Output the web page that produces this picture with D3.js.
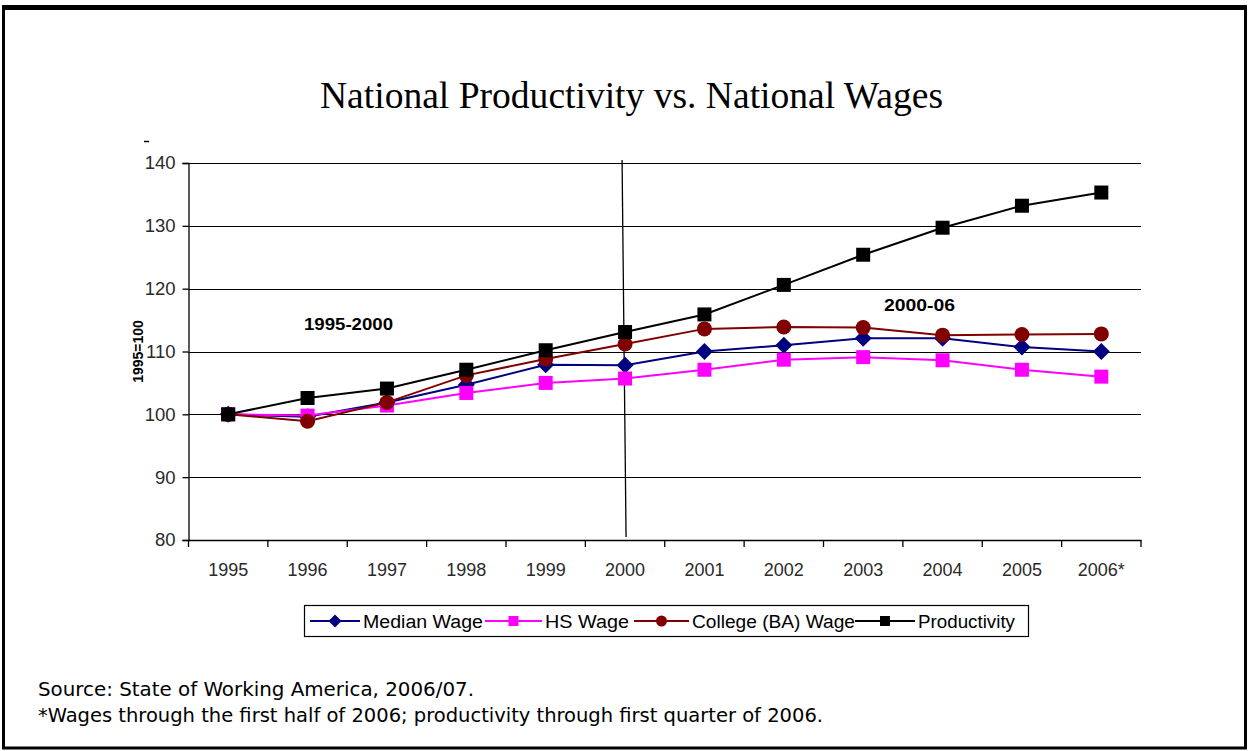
<!DOCTYPE html>
<html>
<head>
<meta charset="utf-8">
<script src="https://cdn.jsdelivr.net/npm/d3@7"></script>
<style>
  html, body { margin: 0; padding: 0; background: #fff; }
  svg { display: block; }
</style>
</head>
<body>
<svg id="chart" width="1249" height="751"></svg>
<script>
// Index values, 1995 = 100
const years = ["1995", "1996", "1997", "1998", "1999", "2000", "2001", "2002", "2003", "2004", "2005", "2006*"];
const medianWage   = [100, 99.6, 101.9, 104.7, 107.9, 107.8, 110.0, 111.0, 112.1, 112.1, 110.7, 110.0];
const hsWage       = [100, 99.8, 101.4, 103.4, 105.0, 105.7, 107.1, 108.7, 109.1, 108.6, 107.1, 106.0];
const collegeWage  = [100, 98.9, 101.9, 106.2, 108.8, 111.2, 113.6, 113.9, 113.8, 112.6, 112.7, 112.8];
const productivity = [100, 102.6, 104.1, 107.1, 110.2, 113.1, 115.9, 120.6, 125.4, 129.7, 133.2, 135.3];
const yTicks = [80, 90, 100, 110, 120, 130, 140];
const seriesNames = ["Median Wage", "HS Wage", "College (BA) Wage", "Productivity"];

const series = [
  { name: seriesNames[0], values: medianWage,   color: "#000080", shape: "diamond" },
  { name: seriesNames[1], values: hsWage,       color: "#ff00ff", shape: "square" },
  { name: seriesNames[2], values: collegeWage,  color: "#800000", shape: "circle" },
  { name: seriesNames[3], values: productivity, color: "#000000", shape: "square" }
];

const svg = d3.select("#chart");
const sans = "'Liberation Sans', Arial, sans-serif";

// Page frame
svg.append("rect").attr("x", 0).attr("y", 0).attr("width", 1249).attr("height", 751).attr("fill", "#fff");
svg.append("rect").attr("x", 3.5).attr("y", 8).attr("width", 1242).attr("height", 740)
  .attr("fill", "none").attr("stroke", "#000").attr("stroke-width", 3);
svg.append("rect").attr("x", 2).attr("y", 5).attr("width", 1245).attr("height", 5).attr("fill", "#000");

// Title
svg.append("text").attr("x", 320).attr("y", 108)
  .attr("font-family", "'Liberation Serif', 'Times New Roman', serif").attr("font-size", 37)
  .attr("textLength", 623).attr("lengthAdjust", "spacingAndGlyphs")
  .attr("fill", "#000").text("National Productivity vs. National Wages");

// Scales
const plot = { left: 188.5, right: 1141, top: 163, bottom: 540 };
const x = d3.scaleBand().domain(years).range([plot.left, plot.right]).padding(0);
const y = d3.scaleLinear().domain([80, 140]).range([plot.bottom, plot.top]);
const cx = d => x(d) + x.bandwidth() / 2;

// Horizontal gridlines
svg.append("g").selectAll("line").data(yTicks.filter(t => t !== 80)).join("line")
  .attr("x1", plot.left).attr("x2", plot.right)
  .attr("y1", d => Math.round(y(d)) + 0.5).attr("y2", d => Math.round(y(d)) + 0.5)
  .attr("stroke", "#000").attr("stroke-width", 1.2);

// Y axis
const yAxis = svg.append("g").attr("transform", `translate(${plot.left},0)`)
  .call(d3.axisLeft(y).tickValues(yTicks).tickSize(6).tickPadding(7).tickFormat(d3.format("d")));
yAxis.selectAll("path, line").attr("stroke", "#000").attr("stroke-width", 1.3);
yAxis.selectAll("text").attr("font-family", sans).attr("font-size", 18.5).attr("fill", "#2a2a2a");

// X axis: ticks at category boundaries
const xAxis = svg.append("g").attr("transform", `translate(0,${plot.bottom})`)
  .call(d3.axisBottom(x).tickSize(0).tickPadding(23));
xAxis.select("path").attr("stroke", "#000").attr("stroke-width", 1.3);
xAxis.selectAll("text").attr("font-family", sans).attr("font-size", 18).attr("fill", "#2a2a2a");
const edges = years.map(d => x(d)).concat([plot.right]);
svg.append("g").selectAll("line").data(edges).join("line")
  .attr("x1", d => d).attr("x2", d => d).attr("y1", plot.bottom).attr("y2", plot.bottom + 7)
  .attr("stroke", "#000").attr("stroke-width", 1.3);

// Y axis title
svg.append("text").attr("transform", `translate(143,${(plot.top + plot.bottom) / 2}) rotate(-90)`)
  .attr("text-anchor", "middle").attr("font-family", sans).attr("font-size", 14)
  .attr("font-weight", "bold").attr("fill", "#000").text("1995=100");
svg.append("line").attr("x1", 144).attr("x2", 149).attr("y1", 141.5).attr("y2", 141.5)
  .attr("stroke", "#000").attr("stroke-width", 1.5);

// Period divider at 2000
svg.append("line").attr("x1", cx("2000") - 3).attr("y1", plot.top - 3)
  .attr("x2", cx("2000") + 1).attr("y2", plot.bottom - 3)
  .attr("stroke", "#000").attr("stroke-width", 1.3);

// Period labels
svg.append("text").attr("x", 304).attr("y", 330).attr("font-family", sans).attr("font-size", 16)
  .attr("font-weight", "bold").attr("textLength", 89).attr("lengthAdjust", "spacingAndGlyphs")
  .attr("fill", "#000").text("1995-2000");
svg.append("text").attr("x", 884).attr("y", 311).attr("font-family", sans).attr("font-size", 16)
  .attr("font-weight", "bold").attr("textLength", 71).attr("lengthAdjust", "spacingAndGlyphs")
  .attr("fill", "#000").text("2000-06");

// Marker shapes
function marker(sel, shape, color, size) {
  if (shape === "circle") {
    sel.append("circle").attr("r", size / 2 + 0.5).attr("fill", color);
  } else if (shape === "diamond") {
    const h = size / 2 + 1.5;
    sel.append("path").attr("d", `M0,${-h}L${h},0L0,${h}L${-h},0Z`).attr("fill", color);
  } else {
    sel.append("rect").attr("x", -size / 2).attr("y", -size / 2)
      .attr("width", size).attr("height", size).attr("fill", color);
  }
}

// Series lines and markers
const line = d3.line().x((d, i) => cx(years[i])).y(d => y(d));
series.forEach(s => {
  const g = svg.append("g");
  g.append("path").datum(s.values).attr("d", line)
    .attr("fill", "none").attr("stroke", s.color).attr("stroke-width", 2);
  g.selectAll("g.pt").data(s.values).join("g").attr("class", "pt")
    .attr("transform", (d, i) => `translate(${cx(years[i])},${y(d)})`)
    .each(function () { marker(d3.select(this), s.shape, s.color, 14); });
});

// Legend
const legend = svg.append("g");
legend.append("rect").attr("x", 304.5).attr("y", 605.5).attr("width", 724).attr("height", 31)
  .attr("fill", "#fff").attr("stroke", "#000").attr("stroke-width", 1.2);
const legendItems = [
  { x0: 310, x1: 360, tw: 120 },
  { x0: 485, x1: 542, tw: 84 },
  { x0: 634, x1: 689, tw: 163 },
  { x0: 855, x1: 915, tw: 97 }
];
series.forEach((s, i) => {
  const it = legendItems[i];
  const g = legend.append("g").attr("transform", "translate(0,621)");
  g.append("line").attr("x1", it.x0).attr("x2", it.x1).attr("stroke", s.color).attr("stroke-width", 2);
  const m = g.append("g").attr("transform", `translate(${(it.x0 + it.x1) / 2},0)`);
  marker(m, s.shape, s.color, 10);
  g.append("text").attr("x", it.x1 + 3).attr("y", 6.5).attr("font-family", sans).attr("font-size", 18)
    .attr("textLength", it.tw).attr("lengthAdjust", "spacingAndGlyphs")
    .attr("fill", "#000").text(s.name);
});

// Notes
const notes = svg.append("g").attr("font-family", "'DejaVu Sans Condensed', 'Liberation Sans Narrow', sans-serif")
  .attr("font-size", 20).attr("fill", "#000");
notes.append("text").attr("x", 38).attr("y", 696).attr("textLength", 436).attr("lengthAdjust", "spacingAndGlyphs")
  .text("Source: State of Working America, 2006/07.");
notes.append("text").attr("x", 38).attr("y", 722).attr("textLength", 785).attr("lengthAdjust", "spacingAndGlyphs")
  .text("*Wages through the first half of 2006; productivity through first quarter of 2006.");
</script>
</body>
</html>
